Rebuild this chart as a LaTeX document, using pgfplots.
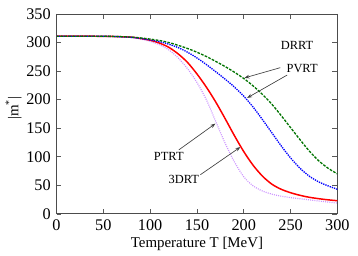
\documentclass[border=0pt]{standalone}
\usepackage{fontspec}
\setmainfont{Liberation Serif}
\usepackage{pgfplots}
\pgfplotsset{compat=1.18}
\usetikzlibrary{arrows.meta}
\definecolor{drgreen}{rgb}{0.0,0.45,0.0}
\definecolor{ptpurple}{rgb}{0.80,0.58,1.0}
\begin{document}
\begin{tikzpicture}
\begin{axis}[
  name=ax,
  scale only axis,
  width=169.6pt, height=120.7pt,
  xmin=0, xmax=300, ymin=0, ymax=350,
  xtick={0,50,...,300}, ytick={0,50,...,350},
  tick align=inside,
  tick style={gray!70!black, line width=0.4pt},
  major tick length=3pt,
  axis line style={gray!60!black, line width=0.5pt},
  /pgf/number format/assume math mode=true,
  ticklabel style={font=\fontsize{9.8}{11}\selectfont},
  xlabel={Temperature T [MeV]},
  ylabel={|m\textsuperscript{*}|},
  xlabel style={font=\fontsize{9}{11}\selectfont, at={(axis description cs:0.5,-0.148)}, anchor=center},
  ylabel style={font=\fontsize{9}{11}\selectfont, at={(axis description cs:-0.153,0.53)}, anchor=center},
  clip=true,
]
% PTRT (purple dotted)
\addplot[ptpurple, line width=0.7pt, dash pattern=on 0.6pt off 0.7pt, smooth] coordinates {
(0,311) (40,311) (60,310.6) (80,308.8) (90,306) (100,302) (110,296) (120,287) (130,273) (140,254) (150,230) (160,200) (170,162) (180,124) (190,91) (200,65) (210,49) (220,40) (230,34.5) (240,31) (250,28.5) (260,26.5) (270,24.5) (285,21.5) (300,19)
};
% 3DRT (red solid)
\addplot[red, line width=0.9pt, smooth] coordinates {
(0,311) (40,311) (60,310.6) (80,309.3) (90,307) (100,304) (110,299) (120,291.5) (130,280) (140,265) (150,245) (160,222) (170,196) (180,167) (190,137) (200,109) (210,85) (220,66) (230,52) (240,43) (250,37) (260,32.5) (270,29) (285,25.5) (300,23)
};
% PVRT (blue dotted)
\addplot[blue, line width=0.8pt, dash pattern=on 0.8pt off 0.6pt, smooth] coordinates {
(0,311) (40,311) (60,310.6) (80,309) (90,307) (100,304.5) (110,301.5) (120,297) (130,291) (140,283) (150,273) (160,261.5) (170,249) (180,236) (190,222) (200,206) (210,187) (220,165) (230,142) (240,119) (250,98) (260,80) (270,66) (280,56) (290,49) (300,43)
};
% DRRT (green dashed)
\addplot[drgreen, line width=0.8pt, dash pattern=on 1.6pt off 0.8pt, smooth] coordinates {
(0,311) (40,311) (60,310.7) (80,309.5) (90,308) (100,306) (110,303.5) (120,300) (130,295) (140,289.5) (150,283) (160,275.5) (170,267) (180,258) (190,248) (200,237) (210,224) (220,209) (230,192) (240,172) (250,151) (260,130) (270,110) (280,93) (290,80) (300,70)
};
% annotations
\node[font=\fontsize{7.5}{9}\selectfont] at (axis cs:257,295.5) {DRRT};
\node[font=\fontsize{7.5}{9}\selectfont] at (axis cs:262.3,255) {PVRT};
\node[font=\fontsize{7.5}{9}\selectfont] at (axis cs:119.9,100.5) {PTRT};
\node[font=\fontsize{7.5}{9}\selectfont] at (axis cs:135.9,61) {3DRT};
\draw[gray!50!black, line width=0.4pt, -{Stealth[length=3pt,width=2.2pt]}] (axis cs:239,256) -- (axis cs:200.7,238);
\draw[gray!50!black, line width=0.4pt, -{Stealth[length=3pt,width=2.2pt]}] (axis cs:246.3,243) -- (axis cs:203.6,203);
\draw[gray!50!black, line width=0.4pt, -{Stealth[length=3pt,width=2.2pt]}] (axis cs:130.6,112) -- (axis cs:169.7,158);
\draw[gray!50!black, line width=0.4pt, -{Stealth[length=3pt,width=2.2pt]}] (axis cs:153.7,68.6) -- (axis cs:196.4,117);
\end{axis}
\path (ax.south west) ++(-33.6bp,-22bp) rectangle ([xshift=12.4bp,yshift=8.4bp]ax.north east);
\end{tikzpicture}
\end{document}
